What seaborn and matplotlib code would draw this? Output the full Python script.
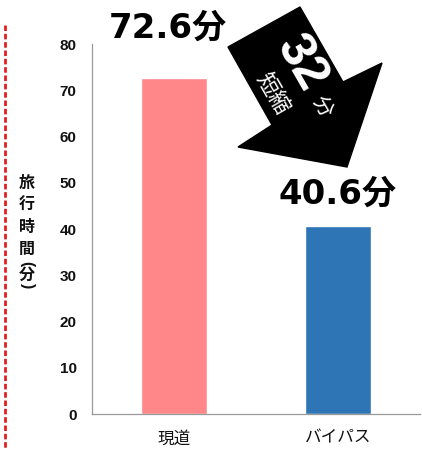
import matplotlib
matplotlib.use("Agg")
import matplotlib.pyplot as plt
from matplotlib.patches import Polygon
from matplotlib.lines import Line2D
import seaborn as sns
import pandas as pd

# ---- data ----
categories = ["現道", "バイパス"]
values = [72.6, 40.6]
value_labels = ["72.6分", "40.6分"]
bar_colors = ["#FF878A", "#2E75B6"]
y_ticks = [0, 10, 20, 30, 40, 50, 60, 70, 80]
ylabel_chars = ["旅", "行", "時", "間", "(", "分", ")"]
reduction_num = "32"
reduction_unit = "分"
reduction_word = "短縮"

W, H = 422, 450
sns.set_style("white")
plt.rcParams["font.family"] = ["Liberation Sans", "Noto Sans CJK JP", "DejaVu Sans"]

fig = plt.figure(figsize=(W / 100, H / 100), dpi=100)
ax = fig.add_axes([92 / W, 1 - 414 / H, (420 - 92) / W, (414 - 44) / H])

df = pd.DataFrame({"cat": categories, "val": values})
sns.barplot(data=df, x="cat", y="val", hue="cat", palette=bar_colors,
            width=0.4, legend=False, ax=ax, saturation=1)

ax.set_xlim(-0.5, 1.5)
ax.set_ylim(0, 80)
ax.set_yticks(y_ticks)
ax.set_yticklabels([str(t) for t in y_ticks], fontsize=11, fontweight="bold",
                   color="#111111")
ax.set_xticks([-0.5, 0.5, 1.5])
ax.set_xticklabels([])
ax.set_xticks([0, 1], minor=True)
ax.set_xticklabels(categories, minor=True, fontsize=12, color="#111111")
ax.tick_params(axis="x", which="minor", length=0, pad=12)
ax.tick_params(axis="x", which="major", length=5, width=0.8, color="#999999",
               direction="out")
ax.tick_params(axis="y", length=5, width=0.8, color="#999999", direction="out",
               pad=6)
ax.set_xlabel("")
ax.set_ylabel("")
for s in ["top", "right"]:
    ax.spines[s].set_visible(False)
for s in ["left", "bottom"]:
    ax.spines[s].set_color("#999999")
    ax.spines[s].set_linewidth(0.9)

# value labels
offsets = [(-4.5, 29), (0, 16.5)]
for i, (v, lab) in enumerate(zip(values, value_labels)):
    ax.annotate(lab, xy=(i, v), xytext=offsets[i], textcoords="offset points",
                ha="center", va="baseline", fontsize=24.5, fontweight="bold",
                color="black", annotation_clip=False,
                family=["DejaVu Sans", "Noto Sans CJK JP"])


def px(x, y):
    return (x / W, 1 - y / H)

# big black arrow
arrow_pts = [(300, 7), (228, 47), (272, 125), (238, 147), (347, 167),
             (382, 63), (343, 82)]
fig.patches.append(Polygon([px(*p) for p in arrow_pts], closed=True,
                           facecolor="black", edgecolor="black",
                           transform=fig.transFigure, figure=fig))

fig.text(*px(301, 64), reduction_num, rotation=-60, rotation_mode="anchor",
         ha="center", va="center", fontsize=36, fontweight="bold", color="white")
fig.text(*px(322, 107), reduction_unit, rotation=-60, rotation_mode="anchor",
         ha="center", va="center", fontsize=15, color="white")
fig.text(*px(271, 94), reduction_word, rotation=-60, rotation_mode="anchor",
         ha="center", va="center", fontsize=16, color="white")

# vertical y-axis label
ys = [183, 205, 227, 249, 264, 275, 286]
for ch, yy in zip(ylabel_chars, ys):
    rot = -90 if ch in "()" else 0
    fig.text(*px(27, yy), ch, ha="center", va="center", fontsize=11.5,
             fontweight="bold", color="#111111", rotation=rot,
             rotation_mode="anchor")

# red dashed line on the left
fig.add_artist(Line2D([5 / W, 5 / W], [1 - 25 / H, 0], transform=fig.transFigure,
                      color="#E02020", linewidth=2, linestyle=(0, (2, 1))))

fig.savefig("out.png", dpi=100)
